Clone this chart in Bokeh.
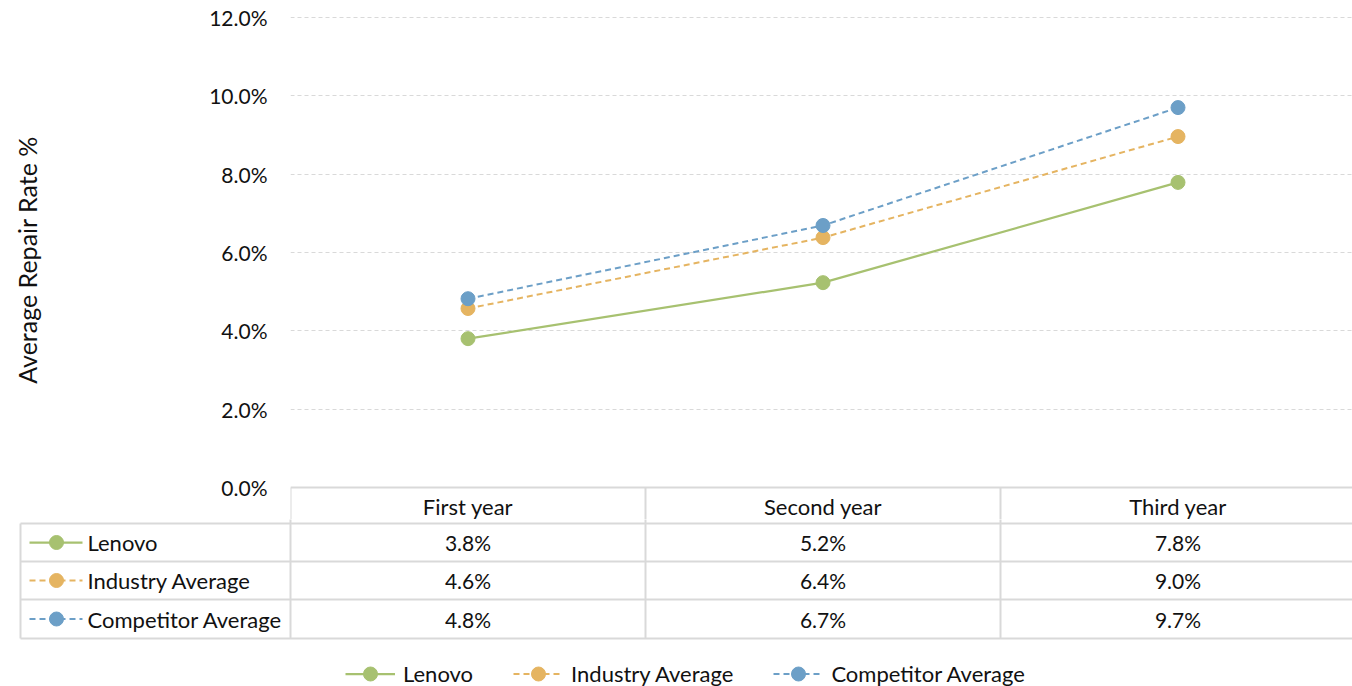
from bokeh.plotting import figure
from bokeh.models import Range1d, FixedTicker, PrintfTickFormatter, Legend, LegendItem
from bokeh.embed import file_html
from bokeh.resources import INLINE
from bokeh.core.properties import value

# ---------------- data ----------------
categories = ["First year", "Second year", "Third year"]
series_names = ["Lenovo", "Industry Average", "Competitor Average"]
lenovo = [3.80, 5.23, 7.79]
industry = [4.57, 6.38, 8.96]
competitor = [4.82, 6.69, 9.70]
y_ticks = [0, 2, 4, 6, 8, 10, 12]

# ---------------- style / layout (pixels in the page) ----------------
series = [lenovo, industry, competitor]
colors = ["#A7C170", "#E5B461", "#6C9FC7"]
dashes = ["solid", "6 4", "6 4"]
widths = [2.25, 2, 2]
FONT = "Lato"
FS_WORD = "22px"
FS_NUM = "21px"
TXT = "#111111"
BORDER = "#D9D9D9"

W = 1352
FRAME_LEFT = 290
TOP_Y = 17             # page y of 12 %
ZERO_Y = 487           # page y of 0 %
SPLIT_Y = 519          # page y where the lower figure starts
H_TOTAL = 686
CAT_W = 355.0
PX_PER_PCT = (ZERO_Y - TOP_Y) / 12.0
x_end = (W - FRAME_LEFT) / CAT_W


def px2x(wx):
    return (wx - FRAME_LEFT) / CAT_W


def py2y(wy):
    return (ZERO_Y - wy) / PX_PER_PCT


xs = [i + 0.5 for i in range(len(categories))]
ncat = len(categories)

# ---------------- chart (with table header row) ----------------
p = figure(frame_width=W - FRAME_LEFT, frame_height=SPLIT_Y,
           x_range=Range1d(0, x_end), y_range=Range1d(py2y(SPLIT_Y), py2y(0)),
           x_axis_location=None, output_backend="svg", toolbar_location=None,
           min_border_left=FRAME_LEFT, min_border_right=0, min_border_top=0,
           min_border_bottom=0)
p.outline_line_color = None
p.xgrid.grid_line_color = None
p.yaxis.ticker = FixedTicker(ticks=y_ticks)
p.yaxis.formatter = PrintfTickFormatter(format="%.1f%%")
p.yaxis.axis_line_color = None
p.yaxis.major_tick_line_color = None
p.yaxis.major_tick_out = 0
p.yaxis.major_tick_in = 0
p.yaxis.minor_tick_line_color = None
p.yaxis.minor_tick_out = 0
p.yaxis.major_label_standoff = 23
p.yaxis.major_label_text_font = FONT
p.yaxis.major_label_text_font_size = FS_NUM
p.yaxis.major_label_text_color = TXT
p.yaxis.axis_label = "Average Repair Rate %"
p.yaxis.axis_label_text_font = FONT
p.yaxis.axis_label_text_font_size = "25px"
p.yaxis.axis_label_text_font_style = "normal"
p.yaxis.axis_label_text_color = TXT
p.yaxis.axis_label_standoff = 164
p.ygrid.ticker = FixedTicker(ticks=[t for t in y_ticks if t > 0])
p.ygrid.grid_line_color = BORDER
p.ygrid.grid_line_dash = "4 3"
p.ygrid.grid_line_width = 1

# table header (part of the chart area below 0 %)
p.segment(x0=[0], y0=[0], x1=[x_end + 0.1], y1=[0], line_color=BORDER, line_width=2)
hv = list(range(ncat + 1))
p.segment(x0=hv, y0=[0] * len(hv), x1=hv, y1=[py2y(SPLIT_Y + 5)] * len(hv),
          line_color=BORDER, line_width=2)
p.text(x=xs, y=[py2y(506)] * ncat, text=categories, text_align="center",
       text_baseline="middle", text_font=value(FONT), text_font_size=FS_WORD, text_color=TXT)

for vals, c, d, w in zip(series, colors, dashes, widths):
    p.line(xs, vals, line_color=c, line_width=w, line_dash=d)
    p.scatter(xs, vals, size=14, fill_color=c, line_color=c)

# ---------------- data table rows + legend ----------------
BOT_H = H_TOTAL - SPLIT_Y
q = figure(width=W, height=BOT_H, x_range=Range1d(px2x(0), x_end), y_range=Range1d(BOT_H, 0),
           x_axis_location=None, y_axis_location=None, output_backend="svg",
           toolbar_location=None, min_border=0)
q.grid.visible = False
q.outline_line_color = None

row_edges = [523 - SPLIT_Y, 561 - SPLIT_Y, 599 - SPLIT_Y, 638 - SPLIT_Y]
left_x = px2x(20)
q.segment(x0=[left_x] * len(row_edges), y0=row_edges, x1=[x_end + 0.1] * len(row_edges),
          y1=row_edges, line_color=BORDER, line_width=2)
vx = [left_x] + hv
vy0 = [row_edges[0]] + [-5] * len(hv)
vy1 = [row_edges[-1]] * len(vx)
q.segment(x0=vx, y0=vy0, x1=vx, y1=vy1, line_color=BORDER, line_width=2)

items = []
for r, (name, vals, c, d, w) in enumerate(zip(series_names, series, colors, dashes, widths)):
    yc = (row_edges[r] + row_edges[r + 1]) / 2
    q.text(x=xs, y=[yc] * ncat, text=[f"{v:.1f}%" for v in vals],
           text_align="center", text_baseline="middle", text_font=value(FONT),
           text_font_size=FS_NUM, text_color=TXT)
    q.text(x=[px2x(87)], y=[yc], text=[name], text_align="left", text_baseline="middle",
           text_font=value(FONT), text_font_size=FS_WORD, text_color=TXT)
    kl = q.line(x=[px2x(29), px2x(82)], y=[yc, yc], line_color=c, line_width=w, line_dash=d)
    kd = q.scatter(x=[px2x(56)], y=[yc], size=14, fill_color=c, line_color=c)
    items.append(LegendItem(label=name, renderers=[kl, kd]))

legend = Legend(items=items, orientation="horizontal", location=(345, -5),
                glyph_width=50, glyph_height=35, label_standoff=8, spacing=40,
                padding=0, margin=0, border_line_color=None, background_fill_alpha=0,
                label_text_font=FONT, label_text_font_size=FS_WORD, label_text_color=TXT)
q.add_layout(legend)

open("out.html", "w").write(file_html([p, q], INLINE))
